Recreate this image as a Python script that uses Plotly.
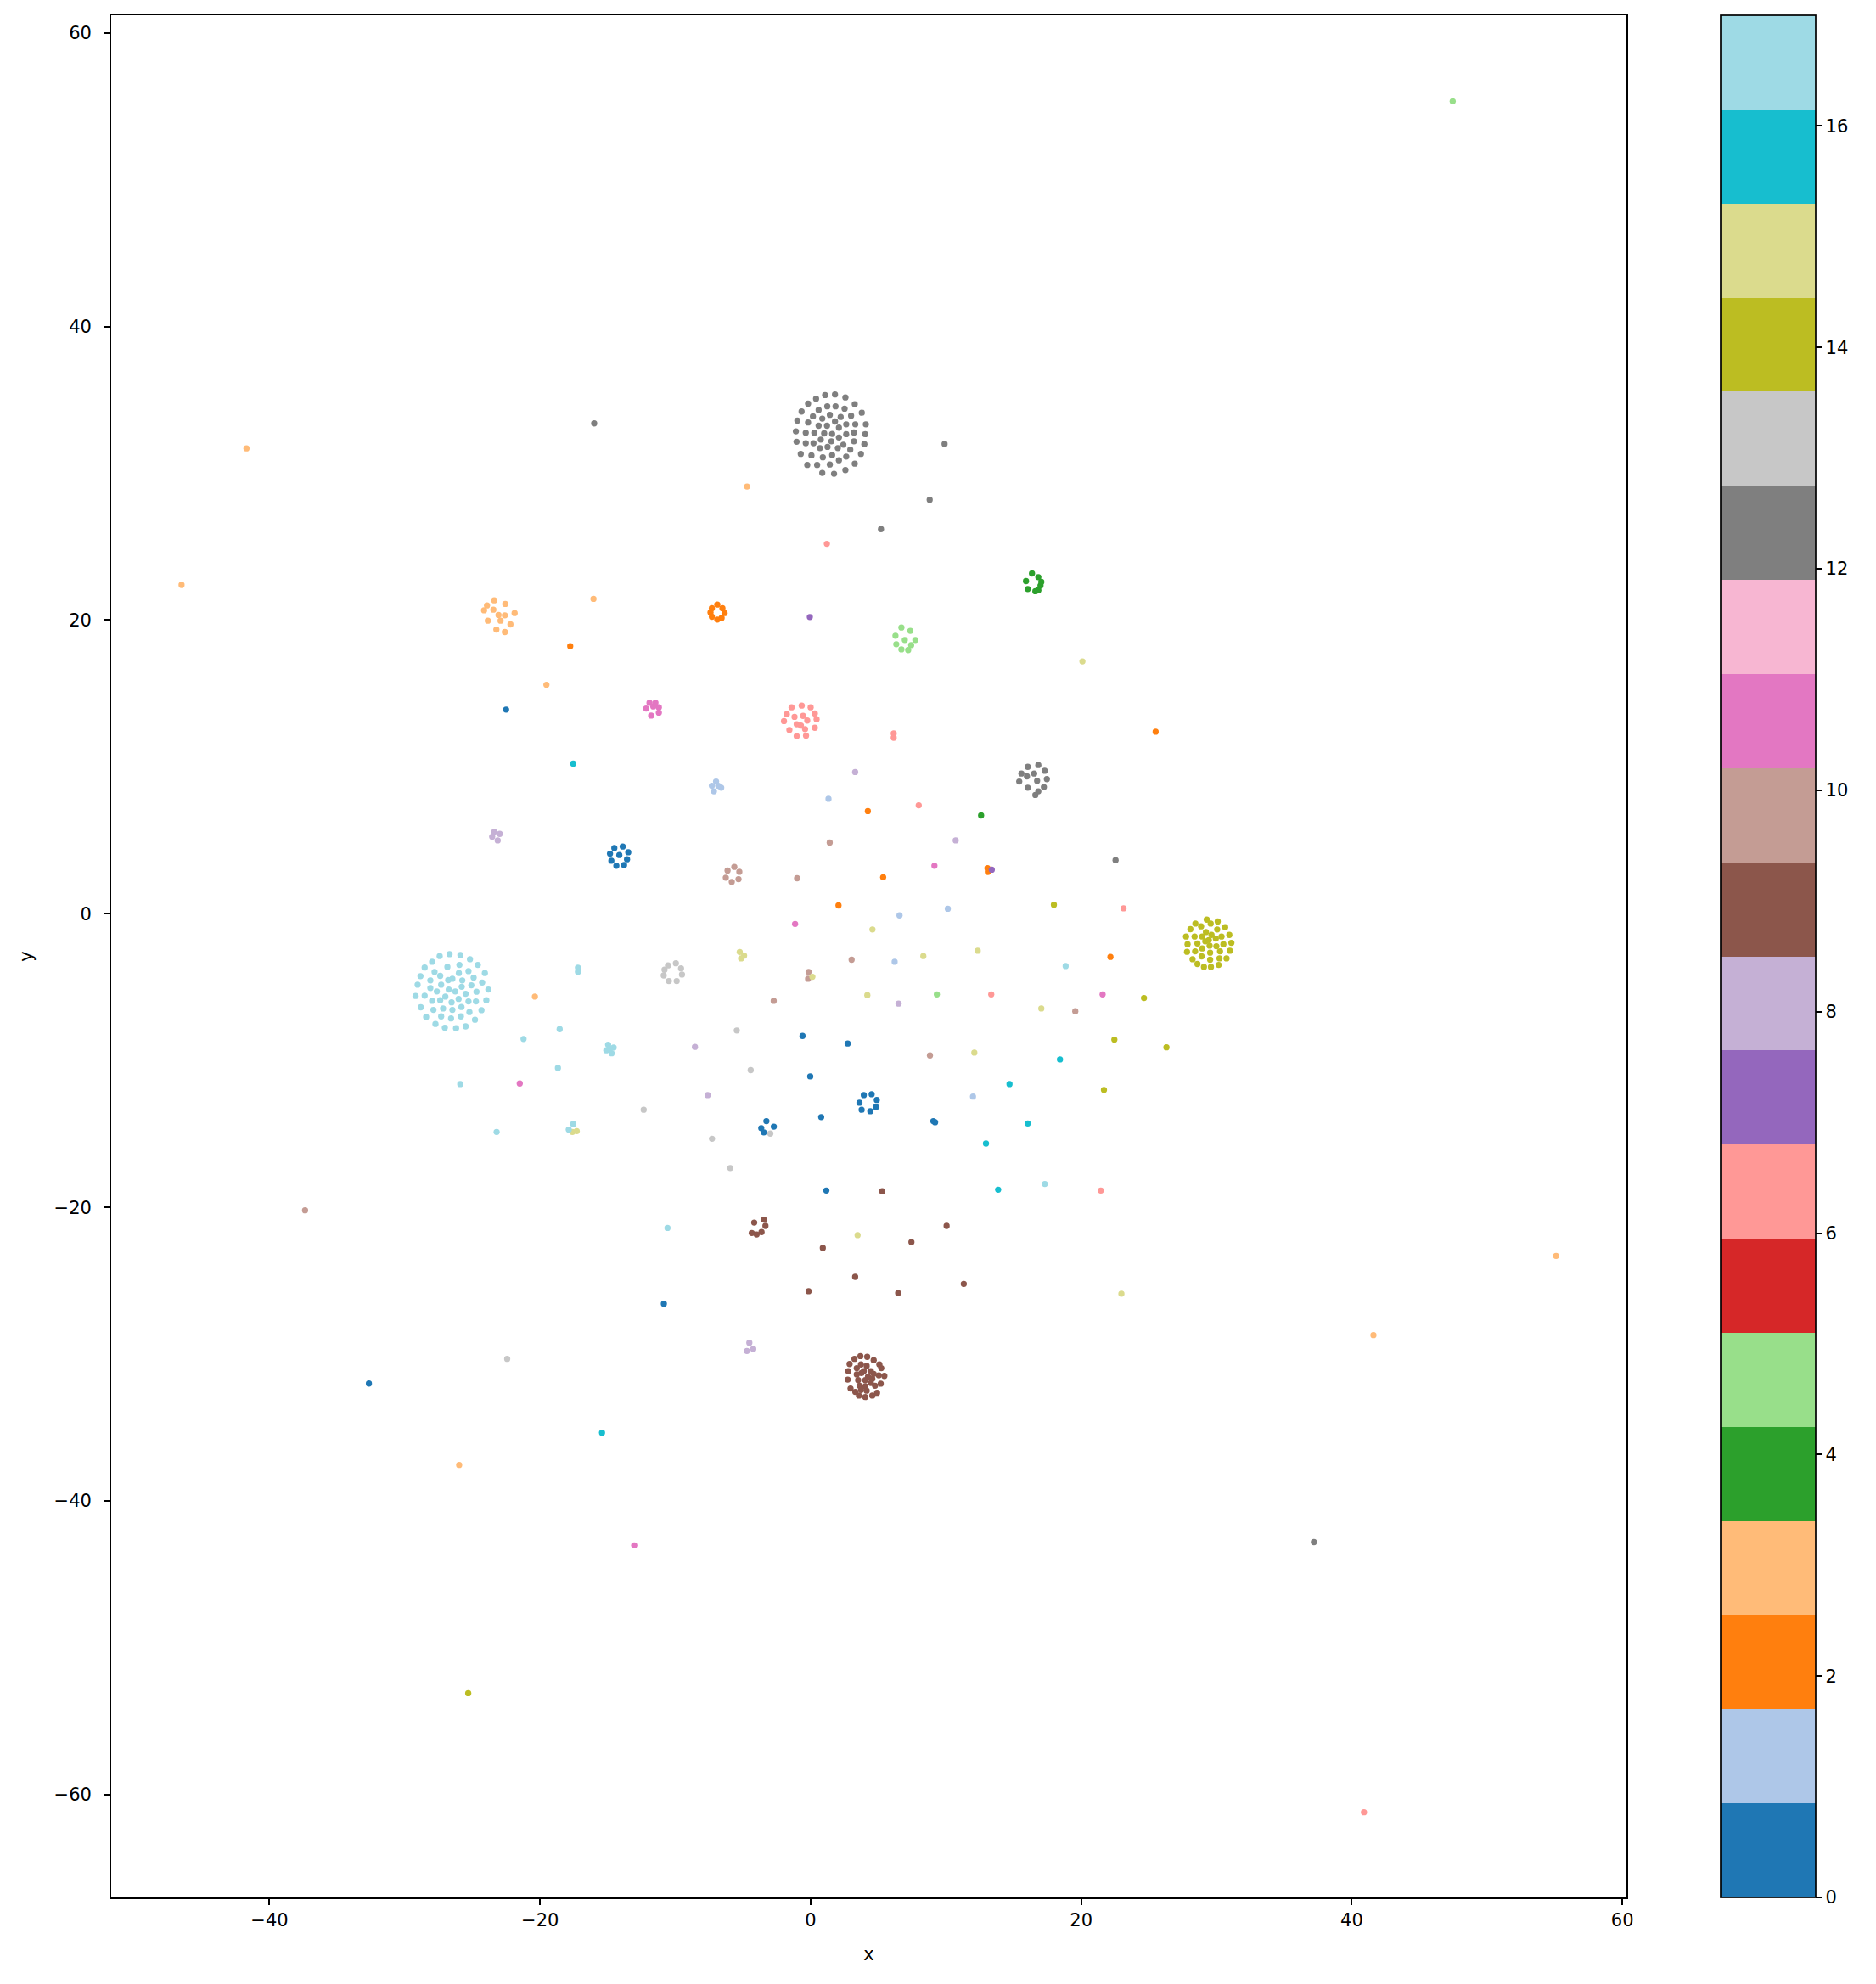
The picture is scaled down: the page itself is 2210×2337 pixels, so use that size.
import plotly.graph_objects as go

# ---------------- data (x, y per cluster label) ----------------
label_00_x = [-22.51, -14.51, -13.89, -13.48, -13.57, -13.79, -14.36, -14.73, -14.83, -14.14,
              -0.60, 2.74, -0.03, 0.78, 9.07, 9.20,
              3.93, 4.51, 4.89, 4.83, 4.41, 3.77, 3.61,
              -3.27, -2.72, -3.65, -3.46, 1.16, -10.85, -32.65]
label_00_y = [13.91, 4.48, 4.58, 4.19, 3.71, 3.32, 3.27, 3.61, 4.09, 4.00,
              -8.32, -8.84, -11.08, -13.85, -14.12, -14.20,
              -12.35, -12.29, -12.68, -13.16, -13.45, -13.35, -12.87,
              -14.12, -14.50, -14.60, -14.89, -18.85, -26.56, -32.00]

label_01_x = [-6.99, -7.30, -6.61, -7.15, -6.83, 1.32, 6.57, 10.14, 6.21, 12.00]
label_01_y = [9.01, 8.72, 8.59, 8.34, 8.72, 7.83, -0.11, 0.34, -3.27, -12.45]

label_02_x = [-17.77, -7.30, -6.90, -6.52, -6.36, -6.58, -6.90, -7.30, -7.40,
              4.23, 13.07, 13.10, 5.36, 2.06, 22.16, 25.50]
label_02_y = [18.23, 20.81, 21.06, 20.81, 20.48, 20.15, 20.04, 20.23, 20.52,
              6.99, 3.10, 2.85, 2.49, 0.57, -2.94, 12.40]

label_03_x = [-23.39, -22.57, -23.92, -24.14, -23.45, -23.07, -22.60, -21.88, -23.86, -22.92,
              -22.19, -23.23, -22.60,
              -16.05, -19.53, -20.38, -41.70, -46.50, -4.70, -25.98, 55.10, 41.60]
label_03_y = [21.35, 21.10, 21.00, 20.67, 20.71, 20.35, 20.33, 20.48, 19.96, 19.96,
              19.71, 19.36, 19.19,
              21.45, 15.60, -5.64, 31.70, 22.40, 29.10, -37.55, -23.30, -28.70]

label_04_x = [16.36, 16.83, 16.99, 16.61, 16.05, 15.92, 17.05, 16.83, 12.60]
label_04_y = [23.18, 22.93, 22.35, 21.97, 22.12, 22.66, 22.60, 22.04, 6.70]

label_05_x = [6.71, 7.37, 6.27, 6.96, 7.74, 6.33, 7.43, 6.71, 7.21, 9.33, 47.46]
label_05_y = [19.50, 19.27, 18.94, 18.65, 18.65, 18.36, 18.30, 18.01, 17.96, -5.49, 55.34]

label_06_x = [-1.41, -0.66, 0.00, -1.76, 0.31, -1.19, -0.56, -1.97, -0.25, 0.44,
              -1.03, -1.57, -0.41, 0.31, -1.03, -0.34, -0.72,
              6.14, 6.14, 1.20, 7.99, 23.13, 13.35, 21.45, 40.90]
label_06_y = [14.06, 14.18, 14.06, 13.60, 13.64, 13.41, 13.48, 13.12, 13.16, 13.25,
              12.91, 12.52, 12.58, 12.67, 12.10, 12.13, 12.82,
              12.28, 11.99, 25.20, 7.39, 0.37, -5.49, -18.85, -61.20]

label_07_x = [-0.06, 13.39]
label_07_y = [20.21, 3.00]

label_08_x = [-23.39, -22.98, -23.54, -23.13, 3.29, 10.72, 6.50, -8.55, -7.61, -4.53, -4.24, -4.71]
label_08_y = [5.58, 5.44, 5.25, 5.00, 9.65, 5.00, -6.12, -9.07, -12.35, -29.22, -29.64, -29.78]

label_09_x = [3.68, 4.18, 3.24, 4.66, 2.88, 3.72, 4.14, 5.08, 3.41, 3.93, 4.45, 5.22,
              2.78, 3.41, 3.76, 4.24, 4.66, 5.04, 5.45, 2.74, 3.51, 4.03, 4.56, 5.18,
              3.62, 4.03, 4.45, 4.76, 2.95, 3.30, 3.72, 4.14, 3.57, 4.03, 4.56, 4.91,
              -4.17, -3.45, -3.34, -3.63, -4.35, -3.99,
              5.29, 10.05, 7.45, 0.90, 3.29, 11.32, -0.15, 6.47]
label_09_y = [-30.13, -30.18, -30.32, -30.41, -30.67, -30.70, -30.80, -30.70, -30.95, -31.15, -31.15, -30.95,
              -31.15, -31.38, -31.28, -31.53, -31.34, -31.44, -31.48, -31.73, -31.77, -31.77, -31.67, -32.01,
              -32.15, -32.19, -31.96, -32.15, -32.34, -32.57, -32.44, -32.49, -32.82, -32.92, -32.82, -32.63,
              -21.03, -20.83, -21.26, -21.68, -21.74, -21.84,
              -18.90, -21.26, -22.36, -22.76, -24.73, -25.21, -25.71, -25.83]

label_10_x = [-6.14, -5.64, -5.27, -5.33, -5.83, -6.27, 1.41, -1.00, 3.03, -0.15, -0.19,
              -2.73, 8.82, 19.56, -37.37]
label_10_y = [2.94, 3.19, 2.86, 2.36, 2.17, 2.46, 4.85, 2.42, -3.13, -3.96, -4.43,
              -5.93, -9.65, -6.64, -20.20]

label_11_x = [-11.91, -11.47, -12.16, -11.22, -11.22, -11.79, -11.63, 9.15, -1.15, 21.58, -21.50, -13.04]
label_11_y = [14.37, 14.37, 13.98, 14.06, 13.70, 13.50, 14.12, 3.27, -0.69, -5.49, -11.56, -43.02]

label_12_x = [1.07, 1.80, 2.57, -0.19, 0.40, 3.26, -0.67, 0.59, 1.23, 1.84, 2.51, 3.78,
              -0.98, 0.17, 0.86, 1.42, 2.22, 2.99, -0.19, -1.09, -0.36, 0.27, 0.59, 1.21,
              1.80, 2.09, 2.63, 3.30, 4.08, -1.04, -0.36, 0.21, 0.75, 1.00, 1.59, 2.09,
              2.63, 3.20, 4.03, -0.73, 0.06, 0.69, 1.25, 1.53, 2.01, 2.42, 2.93, 3.20,
              3.97, -0.25, 0.48, 0.90, 1.59, 2.09, 2.63, 3.72, 0.86, 1.73, 2.57, 1.42, 3.26,
              16.05, 16.83, 15.58, 16.52, 17.30, 15.99, 16.74, 17.46, 15.42, 16.05, 17.24, 16.83, 16.61,
              -16.00, 9.90, 8.80, 5.20, 22.54, 37.20]
label_12_y = [35.33, 35.37, 35.17, 34.75, 35.08, 34.71, 34.21, 34.31, 34.56, 34.56, 34.40, 34.13,
              33.59, 33.88, 33.73, 33.98, 33.84, 33.92, 33.46, 32.86, 32.76, 32.76, 33.24, 33.24,
              33.53, 33.11, 33.34, 33.34, 33.34, 32.15, 32.05, 32.05, 32.30, 32.72, 32.69, 32.44,
              32.67, 32.78, 32.67, 31.32, 31.22, 31.72, 31.80, 32.18, 31.72, 31.95, 31.61, 32.18,
              31.99, 30.57, 30.57, 31.09, 31.24, 30.89, 31.14, 31.32, 30.03, 29.97, 30.22, 30.60, 30.66,
              10.01, 10.13, 9.55, 9.55, 9.74, 9.36, 9.05, 9.17, 9.01, 8.59, 8.63, 8.34, 8.09,
              33.40, 32.00, 28.20, 26.20, 3.65, -42.80]

label_13_x = [-10.54, -9.96, -9.58, -9.51, -9.90, -10.48, -10.86, -10.80,
              -5.46, -4.43, -12.34, -2.98, -7.29, -5.94, -22.43]
label_13_y = [-3.52, -3.37, -3.72, -4.14, -4.58, -4.58, -4.20, -3.81,
              -7.95, -10.65, -13.35, -14.97, -15.32, -17.32, -30.32]

label_14_x = [29.28, 28.44, 30.09, 28.86, 28.07, 29.57, 30.05, 30.64, 27.75, 28.38, 28.94, 29.22,
              29.63, 30.37, 30.95, 27.86, 28.59, 29.17, 29.43, 29.95, 30.51, 31.10, 27.82, 28.42,
              28.94, 29.49, 29.99, 30.26, 30.99, 28.23, 28.90, 29.53, 29.53, 30.22, 30.74, 28.59,
              29.07, 29.59, 30.16,
              17.98, 24.64, 22.45, 21.68, 26.30, -25.31]
label_14_y = [-0.40, -0.67, -0.53, -0.86, -1.05, -0.67, -1.07, -0.92, -1.55, -1.55, -1.55, -1.25,
              -1.44, -1.55, -1.44, -2.07, -2.02, -1.88, -1.79, -1.69, -2.07, -1.98, -2.59, -2.56,
              -2.36, -2.17, -2.21, -2.56, -2.52, -3.10, -2.90, -2.65, -3.13, -3.04, -3.04, -3.42,
              -3.62, -3.62, -3.48,
              0.62, -5.74, -8.57, -12.00, -9.10, -53.09]

label_15_x = [20.09, 4.57, -5.24, -4.92, -5.14, 8.33, 12.35, 0.13, 4.19, 17.05, 12.10,
              -17.61, -17.29, 3.47, 22.97]
label_15_y = [17.19, -1.07, -2.60, -2.85, -3.04, -2.88, -2.52, -4.29, -5.54, -6.45, -9.46,
              -14.86, -14.80, -21.89, -25.88]

label_16_x = [-17.55, 18.43, 14.70, 16.05, 12.96, 13.86, -15.42]
label_16_y = [10.23, -9.92, -11.60, -14.28, -15.65, -18.79, -35.35]

label_17_x = [-26.69, -25.89, -27.42, -25.18, -27.98, -24.60, -28.53, -26.85, -25.96, -24.08,
              -28.84, -27.80, -27.38, -26.00, -25.29, -24.91, -29.05, -28.11, -26.79, -26.48,
              -25.75, -24.28, -23.82, -29.20, -28.53, -28.11, -27.63, -27.31, -26.75, -26.27,
              -25.79, -25.08, -24.70, -25.50, -27.98, -27.38, -27.00, -26.54, -26.02, -25.29,
              -24.74, -23.97, -28.82, -27.88, -27.17, -26.48, -25.81, -25.22, -24.33, -28.42,
              -27.31, -26.58, -25.85, -24.81, -27.73, -27.04, -26.21, -25.50,
              -17.20, -17.20, 18.85, -18.55, -21.22, -18.68, -23.21, -17.55, -17.88, -25.90,
              -10.58, 17.31, -14.97, -14.56, -15.10, -14.71, -14.84]
label_17_y = [-2.75, -2.81, -2.88, -3.10, -3.27, -3.48, -3.66, -3.62, -3.48, -4.04,
              -4.25, -3.96, -4.23, -4.04, -3.91, -4.35, -4.83, -4.54, -4.52, -4.43,
              -4.54, -4.68, -5.16, -5.60, -5.58, -5.06, -5.29, -4.83, -5.16, -5.29,
              -4.97, -4.87, -5.31, -5.45, -5.93, -5.89, -5.64, -6.03, -5.80, -5.97,
              -5.97, -5.89, -6.37, -6.55, -6.45, -6.55, -6.35, -6.70, -6.57, -7.03,
              -6.99, -7.13, -6.99, -7.22, -7.51, -7.76, -7.80, -7.67,
              -3.67, -3.95, -3.56, -7.86, -8.53, -10.50, -14.86, -14.32, -14.70, -11.60,
              -21.40, -18.40, -8.92, -9.11, -9.30, -9.50, -9.19]

series_x = [label_00_x, label_01_x, label_02_x, label_03_x, label_04_x, label_05_x,
            label_06_x, label_07_x, label_08_x, label_09_x, label_10_x, label_11_x,
            label_12_x, label_13_x, label_14_x, label_15_x, label_16_x, label_17_x]
series_y = [label_00_y, label_01_y, label_02_y, label_03_y, label_04_y, label_05_y,
            label_06_y, label_07_y, label_08_y, label_09_y, label_10_y, label_11_y,
            label_12_y, label_13_y, label_14_y, label_15_y, label_16_y, label_17_y]

colorbar_ticks = [0, 2, 4, 6, 8, 10, 12, 14, 16]

# ---------------- styling ----------------
tab20 = ["#1f77b4", "#aec7e8", "#ff7f0e", "#ffbb78", "#2ca02c", "#98df8a",
         "#d62728", "#ff9896", "#9467bd", "#c5b0d5", "#8c564b", "#c49c94",
         "#e377c2", "#f7b6d2", "#7f7f7f", "#c7c7c7", "#bcbd22", "#dbdb8d",
         "#17becf", "#9edae5"]
colorscale = []
for i, c in enumerate(tab20):
    colorscale.append([i / 20, c])
    colorscale.append([(i + 1) / 20, c])

xs, ys, cs = [], [], []
for lab, (sx, sy) in enumerate(zip(series_x, series_y)):
    xs.extend(sx)
    ys.extend(sy)
    cs.extend([lab] * len(sx))

FONT = "DejaVu Sans"
# the page body has an 8 px default margin, so the figure is drawn 8 px in
W, H = 2194, 2321
PL, PR, PT, PB = 123, 1908, 10, 2227      # plot area edges inside the figure
L, R, T, B = PL, W - PR, PT, H - PB
plot_w = PR - PL

fig = go.Figure()
fig.add_trace(go.Scatter(
    x=xs, y=ys, mode="markers",
    marker=dict(
        size=7.3, color=cs, colorscale=colorscale, cmin=0, cmax=17,
        line=dict(width=0),
        showscale=True,
        colorbar=dict(
            x=(2019 - PL) / plot_w, xanchor="left", xpad=0,
            y=0.5, yanchor="middle", ypad=0,
            len=1, lenmode="fraction",
            thickness=112, thicknessmode="pixels",
            outlinewidth=1.7, outlinecolor="black",
            tickmode="array", tickvals=colorbar_ticks,
            ticks="outside", ticklen=7, tickwidth=1.7, tickcolor="black",
            tickfont=dict(family=FONT, size=21, color="black"),
        ),
    ),
    hoverinfo="x+y",
))

axis_common = dict(
    showgrid=False, zeroline=False,
    showline=True, mirror=True, linecolor="black", linewidth=1.7,
    ticks="outside", ticklen=7, tickwidth=1.7, tickcolor="black",
    tickfont=dict(family=FONT, size=21, color="black"),
    title_font=dict(family=FONT, size=21, color="black"),
)

fig.update_layout(
    width=W, height=H,
    margin=dict(l=L, r=R, t=T, b=B, autoexpand=False),
    paper_bgcolor="white", plot_bgcolor="white",
    showlegend=False,
    font=dict(family=FONT, size=21, color="black"),
    xaxis=dict(range=[-51.7, 60.3], tickvals=[-40, -20, 0, 20, 40, 60],
               title=dict(text="x", standoff=21), **axis_common),
    yaxis=dict(range=[-67.0, 61.2], tickvals=[-60, -40, -20, 0, 20, 40, 60],
               ticklabelstandoff=10,
               title=dict(text="y", standoff=19), **axis_common),
)

fig.write_html("out.html")
